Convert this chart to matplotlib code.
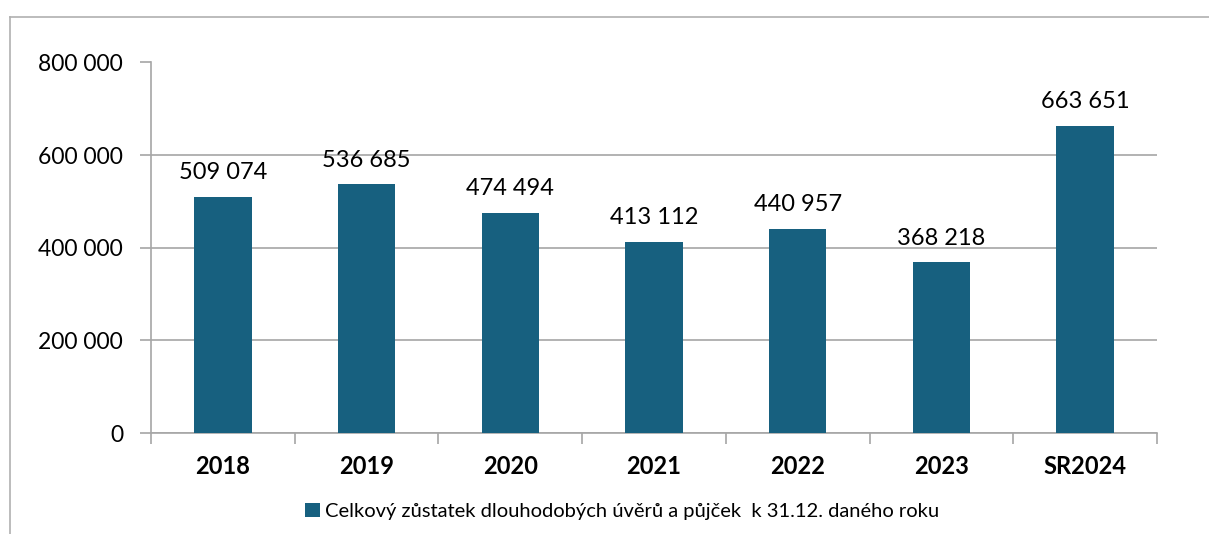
import matplotlib.pyplot as plt
from matplotlib.lines import Line2D

categories = ['2018', '2019', '2020', '2021', '2022', '2023', 'SR2024']
values = [509074, 536685, 474494, 413112, 440957, 368218, 663651]
series_name = 'Celkový zůstatek dlouhodobých úvěrů a půjček  k 31.12. daného roku'

plt.rcParams['font.family'] = ['Lato', 'DejaVu Sans']
bar_color = '#17607f'
grid_color = '#a6a6a6'

fig = plt.figure(figsize=(12.09, 5.34), dpi=100)
ax = fig.add_axes([151 / 1209, 1 - 433 / 534, (1157 - 151) / 1209, (433 - 62.5) / 534])

x = list(range(len(categories)))
ax.bar(x, values, width=0.40, color=bar_color, zorder=3, label=series_name)

def fmt(v):
    return f'{v:,}'.replace(',', ' ')

for xi, v in zip(x, values):
    ax.annotate(fmt(v), (xi, v), xytext=(0, 10), textcoords='offset points',
                ha='center', va='bottom', fontsize=17, color='black')

ax.set_xlim(-0.5, len(categories) - 0.5)
ax.set_ylim(0, 800000)
ax.set_yticks(range(0, 800001, 200000))
ax.set_yticklabels([fmt(v) for v in range(0, 800001, 200000)], fontsize=16.5)
ax.yaxis.grid(True, color=grid_color, linewidth=1.2, zorder=0)
ax.tick_params(axis='y', length=8, color=grid_color, width=1.2, pad=12)

ax.set_xticks([i - 0.5 for i in range(len(categories) + 1)])
ax.set_xticklabels([])
ax.set_xticks(x, minor=True)
ax.set_xticklabels(categories, minor=True, fontsize=17, fontweight='bold')
ax.tick_params(axis='x', which='major', length=8, color=grid_color, width=1.2)
ax.tick_params(axis='x', which='minor', length=0, pad=16)

for side in ['top', 'right']:
    ax.spines[side].set_visible(False)
for side in ['left', 'bottom']:
    ax.spines[side].set_color(grid_color)
    ax.spines[side].set_linewidth(1.2)

fig.legend(loc='lower center', bbox_to_anchor=(622 / 1209, 0), frameon=False,
           borderaxespad=0.3,
           fontsize=14.5, handlelength=0.75, handleheight=0.75, handletextpad=0.25)

# outer chart border (top and left visible)
fig.add_artist(Line2D([10 / 1209, 10 / 1209], [0, 1 - 17 / 534], transform=fig.transFigure,
                      color='#b0b0b0', linewidth=1.2))
fig.add_artist(Line2D([10 / 1209, 1], [1 - 17 / 534, 1 - 17 / 534], transform=fig.transFigure,
                      color='#b0b0b0', linewidth=1.2))

fig.savefig('out.png', dpi=100)
